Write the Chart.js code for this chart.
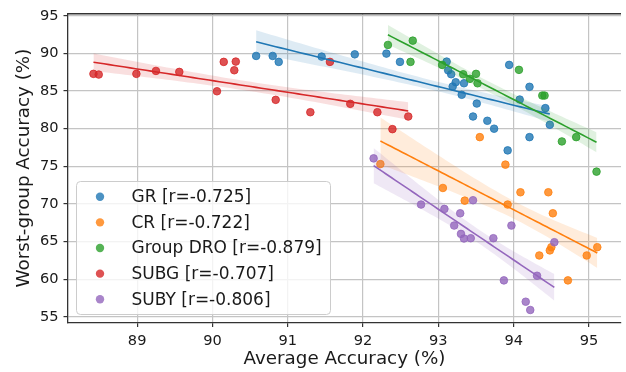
<!DOCTYPE html>
<html>
<head>
<meta charset="utf-8">
<script src="https://cdn.jsdelivr.net/npm/chart.js@4.4.1/dist/chart.umd.min.js"></script>
<style>
  html, body { margin: 0; padding: 0; background: #fff; }
</style>
</head>
<body>
<canvas id="accChart" width="626" height="372"></canvas>
<script>
// 데이터
const methodNames = ['GR', 'CR', 'Group DRO', 'SUBG', 'SUBY'];
const methodR = ['-0.725', '-0.722', '-0.879', '-0.707', '-0.806'];
const methodRgb = ['31,119,180', '255,127,14', '44,160,44', '214,39,40', '148,103,189'];

const grAvg   = [90.58, 90.80, 90.88, 91.45, 91.89, 92.31, 92.49, 93.11, 93.13, 93.17, 93.23, 93.19, 93.34,
                 93.31, 93.51, 93.46, 93.65, 93.74, 93.94, 94.08, 93.92, 94.21, 94.48, 94.42, 94.21];
const grWorst = [89.66, 89.66, 88.87, 89.57, 89.87, 89.97, 88.87, 88.91, 87.75, 87.23, 86.17, 85.60, 86.03,
                 84.50, 83.34, 81.62, 81.05, 80.00, 88.47, 83.87, 77.12, 78.88, 80.52, 82.73, 85.56];

const crAvg   = [92.23, 93.06, 93.35, 93.55, 93.89, 93.92, 94.09, 94.46, 94.52, 94.50, 94.48, 94.34, 94.72, 94.97, 95.11];
const crWorst = [75.30, 72.13, 70.45, 78.88, 75.23, 69.93, 71.56, 71.56, 68.77, 64.27, 63.84, 63.17, 59.86, 63.17, 64.27];

const droAvg   = [92.33, 92.66, 92.63, 93.05, 93.33, 93.42, 93.50, 93.52, 94.07, 94.38, 94.41, 94.64, 94.83, 95.10];
const droWorst = [91.12, 91.69, 88.87, 88.47, 87.23, 86.62, 87.28, 86.03, 87.81, 84.40, 84.40, 78.31, 78.88, 74.30];

const subgAvg   = [88.42, 88.49, 88.99, 89.25, 89.56, 90.06, 90.15, 90.31, 90.29, 90.84, 91.30, 91.56, 91.83, 92.19, 92.39, 92.60];
const subgWorst = [87.28, 87.19, 87.28, 87.67, 87.54, 84.97, 88.87, 88.91, 87.76, 83.83, 82.19, 88.87, 83.30, 82.19, 79.94, 81.62];

const subyAvg   = [92.14, 92.77, 93.08, 93.29, 93.21, 93.30, 93.34, 93.43, 93.46, 93.73, 93.97, 94.54, 93.87, 94.31, 94.16, 94.22];
const subyWorst = [76.06, 69.93, 69.35, 68.77, 67.14, 66.03, 65.42, 65.46, 70.50, 65.46, 67.14, 64.93, 59.86, 60.48, 57.03, 55.93];

const xTickValues = [89, 90, 91, 92, 93, 94, 95];
const yTickValues = [55, 60, 65, 70, 75, 80, 85, 90, 95];

const groupAvg = [grAvg, crAvg, droAvg, subgAvg, subyAvg];
const groupWorst = [grWorst, crWorst, droWorst, subgWorst, subyWorst];

// 회귀선 + 신뢰구간 계산
const BAND_SCALE = 1.15;
function fitLine(xs, ys) {
    const n = xs.length;
    const mx = xs.reduce((a, b) => a + b, 0) / n;
    const my = ys.reduce((a, b) => a + b, 0) / n;
    let sxx = 0, sxy = 0;
    for (let i = 0; i < n; i++) {
        sxx += (xs[i] - mx) ** 2;
        sxy += (xs[i] - mx) * (ys[i] - my);
    }
    const slope = sxy / sxx;
    const icpt = my - slope * mx;
    let sse = 0;
    for (let i = 0; i < n; i++) sse += (ys[i] - (icpt + slope * xs[i])) ** 2;
    const s = Math.sqrt(sse / (n - 2));
    const lo = Math.min(...xs), hi = Math.max(...xs);
    const line = [], upper = [], lower = [];
    const steps = 60;
    for (let k = 0; k <= steps; k++) {
        const x = lo + (hi - lo) * k / steps;
        const y = icpt + slope * x;
        const se = s * Math.sqrt(1 / n + (x - mx) ** 2 / sxx) * BAND_SCALE;
        line.push({ x: x, y: y });
        upper.push({ x: x, y: y + se });
        lower.push({ x: x, y: y - se });
    }
    return { line, upper, lower };
}

// 데이터셋 구성
const datasets = [];
methodNames.forEach((name, g) => {
    const c = methodRgb[g];
    const pts = groupAvg[g].map((v, i) => ({ x: v, y: groupWorst[g][i] }));
    const fit = fitLine(groupAvg[g], groupWorst[g]);
    datasets.push({
        label: name,
        data: pts,
        backgroundColor: 'rgba(' + c + ',0.8)',
        borderColor: 'rgba(' + c + ',0.8)',
        borderWidth: 1,
        pointRadius: 3.8,
        order: 50 - g * 2,
    });
    datasets.push({
        label: name + ' lo',
        data: fit.lower,
        showLine: true,
        borderWidth: 0,
        pointRadius: 0,
        fill: false,
        order: 49 - g * 2,
    });
    datasets.push({
        label: name + ' hi',
        data: fit.upper,
        showLine: true,
        borderWidth: 0,
        pointRadius: 0,
        fill: '-1',
        backgroundColor: 'rgba(' + c + ',0.15)',
        order: 49 - g * 2,
    });
    datasets.push({
        label: name + ' fit',
        data: fit.line,
        showLine: true,
        borderColor: 'rgb(' + c + ')',
        borderWidth: 1.6,
        pointRadius: 0,
        fill: false,
        order: 5 - g,
    });
});

// 위쪽 테두리와 범례 그리기
const frameAndLegend = {
    id: 'frameAndLegend',
    afterDraw(chart) {
        const ctx = chart.ctx;
        const area = chart.chartArea;
        ctx.save();
        ctx.strokeStyle = '#333';
        ctx.lineWidth = 1.3;
        ctx.beginPath();
        ctx.moveTo(area.left, area.top);
        ctx.lineTo(area.right, area.top);
        ctx.stroke();

        const bx = 76.5, by = 181.5, bw = 254, bh = 133;
        ctx.beginPath();
        ctx.roundRect(bx, by, bw, bh, 4);
        ctx.fillStyle = 'rgba(255,255,255,0.8)';
        ctx.fill();
        ctx.strokeStyle = '#cccccc';
        ctx.lineWidth = 1;
        ctx.stroke();

        ctx.font = "17px 'DejaVu Sans'";
        ctx.textBaseline = 'middle';
        ctx.textAlign = 'left';
        methodNames.forEach((name, g) => {
            const cy = 196.7 + g * 25.65;
            ctx.beginPath();
            ctx.arc(100, cy, 4.2, 0, Math.PI * 2);
            ctx.fillStyle = 'rgba(' + methodRgb[g] + ',0.8)';
            ctx.fill();
            ctx.fillStyle = '#1a1a1a';
            ctx.fillText(name + ' [r=' + methodR[g] + ']', 131.5, cy + 1);
        });
        ctx.restore();
    }
};

Chart.defaults.font.family = "'DejaVu Sans', sans-serif";
Chart.defaults.color = '#1a1a1a';

const accCtx = document.getElementById('accChart').getContext('2d');
const accChart = new Chart(accCtx, {
    type: 'scatter',
    data: { datasets: datasets },
    options: {
        responsive: false,
        devicePixelRatio: 1,
        animation: false,
        layout: { padding: { top: 12, right: 0, left: 0, bottom: 0 } },
        plugins: {
            legend: { display: false },
            tooltip: { enabled: false },
        },
        scales: {
            x: {
                type: 'linear',
                min: 88.082,
                max: 95.425,
                afterFit: (scale) => { scale.height = 49.5; },
                afterBuildTicks: (scale) => { scale.ticks = xTickValues.map(v => ({ value: v })); },
                ticks: { font: { size: 14.6 }, padding: 5, callback: (v) => String(v) },
                grid: { color: '#c4c4c4', lineWidth: 1.2, tickLength: 4.5, tickColor: '#333', tickWidth: 1.2 },
                border: { color: '#333', width: 1.3 },
                title: { display: true, text: 'Average Accuracy (%)', font: { size: 18.3 }, padding: { top: 0, bottom: 1.3 } },
            },
            y: {
                type: 'linear',
                min: 54.27,
                max: 95.26,
                afterFit: (scale) => { scale.width = 68; },
                afterBuildTicks: (scale) => { scale.ticks = yTickValues.map(v => ({ value: v })); },
                ticks: { font: { size: 14.6 }, padding: 5, callback: (v) => String(v) },
                grid: { color: '#c4c4c4', lineWidth: 1.2, tickLength: 4.5, tickColor: '#333', tickWidth: 1.2 },
                border: { color: '#333', width: 1.3 },
                title: { display: true, text: 'Worst-group Accuracy (%)', font: { size: 18.3 }, padding: { top: 13.3, bottom: 0 } },
            },
        },
    },
    plugins: [frameAndLegend],
});
</script>
</body>
</html>
